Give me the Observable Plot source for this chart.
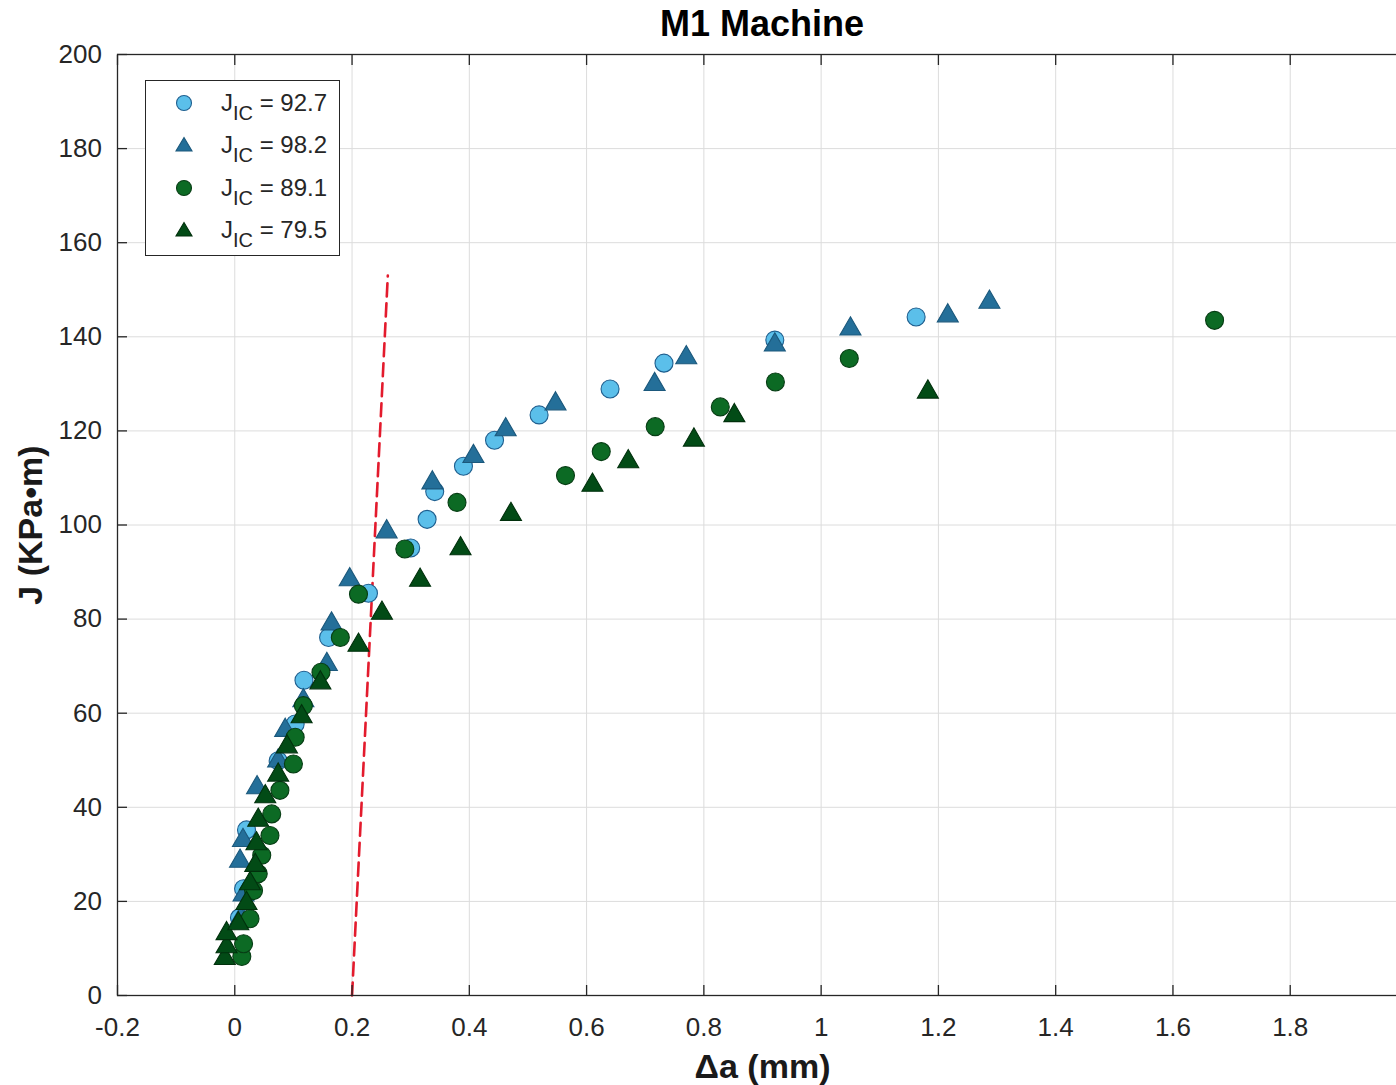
<!DOCTYPE html>
<html>
<head>
<meta charset="utf-8">
<script src="https://cdn.jsdelivr.net/npm/d3@7"></script>
<script src="https://cdn.jsdelivr.net/npm/@observablehq/plot@0.6"></script>
<style>
  html, body { margin: 0; padding: 0; background: #fff; overflow: hidden; width: 1396px; height: 1085px; }
  #wrap { position: relative; width: 1396px; height: 1085px; overflow: hidden;
          font-family: "Liberation Sans", Arial, Helvetica, sans-serif; color: #262626; }
  #title { position: absolute; left: 762px; top: 0; transform: translateX(-50%);
           font-size: 36px; font-weight: bold; line-height: 48px; white-space: nowrap; color: #000; }
  #chart { position: absolute; left: 0; top: 44px; width: 1410px; }
  #chart svg { max-width: none !important; width: 1410px !important; height: 1041px !important; }
  #legend { position: absolute; left: 145px; top: 80px; width: 195px; height: 176px;
            border: 1.3px solid #262626; background: #fff; box-sizing: border-box; }
  .item { position: absolute; left: 0; width: 194px; height: 40px; }
  .item svg { position: absolute; left: 24px; top: 0px; }
  .item .lbl { position: absolute; left: 75px; top: 0px; font-size: 24px; line-height: 28px; white-space: nowrap; color: #262626; }
  .item .lbl sub { font-size: 20px; vertical-align: -9px; line-height: 0; }
</style>
</head>
<body>
<div id="wrap">
  <div id="title"></div>
  <div id="chart"></div>
  <div id="legend"></div>
</div>
<script>
// ---- data ----
const titleText = "M1 Machine";
const xLabel = "Δa (mm)";
const yLabel = "J (KPa•m)";
const xTicks = [-0.2, 0, 0.2, 0.4, 0.6, 0.8, 1, 1.2, 1.4, 1.6, 1.8];
const yTicks = [0, 20, 40, 60, 80, 100, 120, 140, 160, 180, 200];

const jicValues = ["92.7", "98.2", "89.1", "79.5"];

// series 1: light blue circles (J_IC = 92.7)
const x1 = [0.008, 0.015, 0.020, 0.074, 0.103, 0.118, 0.160, 0.228, 0.300, 0.328, 0.341, 0.390, 0.443, 0.519, 0.640, 0.732, 0.921, 1.162];
const y1 = [16.5, 22.7, 35.2, 49.9, 57.7, 67.0, 76.1, 85.5, 95.1, 101.2, 107.1, 112.5, 118.0, 123.4, 128.9, 134.4, 139.3, 144.2];

// series 2: blue triangles (J_IC = 98.2)
const x2 = [0.010, 0.015, 0.009, 0.014, 0.038, 0.074, 0.086, 0.117, 0.157, 0.165, 0.196, 0.259, 0.337, 0.407, 0.462, 0.547, 0.716, 0.770, 0.921, 1.050, 1.216, 1.287];
const y2 = [17.0, 22.0, 29.2, 33.6, 44.8, 50.5, 57.0, 63.3, 71.0, 79.6, 89.0, 99.2, 109.6, 115.2, 120.9, 126.4, 130.5, 136.2, 138.9, 142.3, 145.1, 148.0];

// series 3: green circles (J_IC = 89.1)
const x3 = [0.012, 0.015, 0.026, 0.032, 0.040, 0.046, 0.060, 0.063, 0.077, 0.100, 0.103, 0.117, 0.147, 0.180, 0.211, 0.290, 0.379, 0.564, 0.625, 0.717, 0.828, 0.922, 1.048, 1.671];
const y3 = [8.3, 11.0, 16.3, 22.3, 25.9, 29.8, 34.0, 38.6, 43.6, 49.2, 54.9, 61.6, 68.7, 76.1, 85.3, 94.9, 104.8, 110.5, 115.6, 120.9, 125.1, 130.4, 135.4, 143.5];

// series 4: dark green triangles (J_IC = 79.5)
const x4 = [-0.017, -0.014, -0.014, 0.006, 0.020, 0.026, 0.035, 0.037, 0.040, 0.052, 0.074, 0.089, 0.114, 0.146, 0.211, 0.251, 0.316, 0.385, 0.471, 0.610, 0.671, 0.783, 0.852, 1.182];
const y4 = [8.5, 11.0, 13.8, 15.9, 20.2, 24.4, 28.3, 32.9, 37.9, 42.9, 47.5, 53.5, 59.9, 67.1, 75.1, 81.9, 88.9, 95.6, 102.9, 109.1, 114.1, 118.7, 123.9, 128.9];

// red dashed construction line
const dashX = [0.2, 0.261];
const dashY = [0, 153];

// ---- styles ----
const styles = [
  {symbol: "circle",   r: 9,   fill: "#5bbfea", stroke: "#1f5f8f", dy: 0},
  {symbol: "triangle", r: 7.8, fill: "#246f99", stroke: "#1b587c", dy: 3},
  {symbol: "circle",   r: 9,   fill: "#0c6a24", stroke: "#073d14", dy: 0},
  {symbol: "triangle", r: 7.8, fill: "#024b16", stroke: "#01300c", dy: 3}
];

const toRows = (xs, ys) => xs.map((x, i) => ({x, y: ys[i]}));
const seriesData = [toRows(x1, y1), toRows(x2, y2), toRows(x3, y3), toRows(x4, y4)];
const dashRows = toRows(dashX, dashY);

const font = '"Liberation Sans", Arial, Helvetica, sans-serif';

const chart = Plot.plot({
  width: 1410,
  height: 1041,
  marginLeft: 117,
  marginRight: 3,
  marginTop: 10,
  marginBottom: 90,
  x: {domain: [-0.2, 2.0]},
  y: {domain: [0, 200]},
  style: {fontFamily: font, color: "#262626", background: "transparent", overflow: "visible", maxWidth: "none"},
  marks: [
    Plot.gridX(xTicks, {stroke: "#dcdcdc", strokeOpacity: 1, strokeWidth: 1}),
    Plot.gridY(yTicks, {stroke: "#dcdcdc", strokeOpacity: 1, strokeWidth: 1}),
    Plot.line(dashRows, {x: "x", y: "y", stroke: "#e31b2d", strokeWidth: 2.6, strokeDasharray: "13,7"}),
    ...seriesData.map((rows, i) => Plot.dot(rows, {
      x: "x", y: "y", symbol: styles[i].symbol, r: styles[i].r,
      fill: styles[i].fill, stroke: styles[i].stroke, strokeWidth: 1.1, dy: styles[i].dy
    })),
    Plot.frame({stroke: "#262626", strokeWidth: 1.3}),
    Plot.axisX(xTicks, {anchor: "bottom", tickSize: -10, tickPadding: 32, fontSize: 26,
      tickFormat: d => String(d), label: null, strokeWidth: 1.3}),
    Plot.axisX(xTicks, {anchor: "top", tickSize: -10, tickFormat: () => "", label: null, strokeWidth: 1.3}),
    Plot.axisY(yTicks, {anchor: "left", tickSize: -10, tickPadding: 25.5, fontSize: 26,
      tickFormat: d => String(d), label: null, strokeWidth: 1.3}),
    Plot.axisY(yTicks, {anchor: "right", tickSize: -10, tickFormat: () => "", label: null, strokeWidth: 1.3}),
    Plot.text([xLabel], {frameAnchor: "bottom", dy: 72, fontSize: 34, fontWeight: "bold", fill: "#1a1a1a",
      textAnchor: "middle", lineAnchor: "middle"}),
    Plot.text([yLabel], {frameAnchor: "left", dx: -86, rotate: -90, fontSize: 34, fontWeight: "bold", fill: "#1a1a1a",
      textAnchor: "middle", lineAnchor: "middle"})
  ]
});
document.getElementById("chart").appendChild(chart);
document.getElementById("title").textContent = titleText;

// ---- legend ----
const legend = document.getElementById("legend");
const rowCenters = [22, 64, 107, 149];
jicValues.forEach((v, i) => {
  const st = styles[i];
  const item = document.createElement("div");
  item.className = "item";
  item.style.top = (rowCenters[i] - 14) + "px";
  let shape;
  if (st.symbol === "circle") {
    shape = `<circle cx="14" cy="14" r="7.5" fill="${st.fill}" stroke="${st.stroke}" stroke-width="1.1"/>`;
  } else {
    shape = `<path d="M14,6.5 L22,20 L6,20 Z" fill="${st.fill}" stroke="${st.stroke}" stroke-width="1.1"/>`;
  }
  item.innerHTML = `<svg width="28" height="28">${shape}</svg>` +
    `<span class="lbl">J<sub>IC</sub> = ${v}</span>`;
  legend.appendChild(item);
});
</script>
</body>
</html>
